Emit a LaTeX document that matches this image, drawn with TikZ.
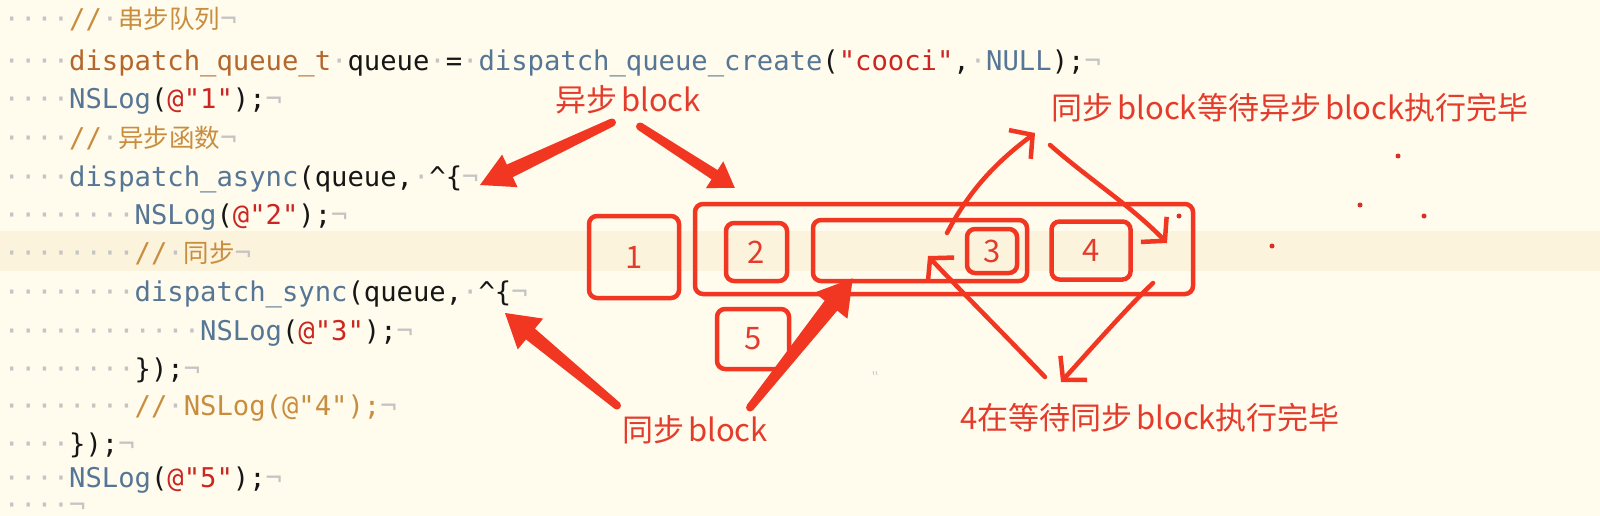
\documentclass[tikz,border=0pt]{standalone}
\usepackage{tikz}
\usepackage{xcolor}
\usepackage{fontspec}
\setmonofont{DejaVu Sans Mono}
\newfontfamily\cjk{Noto Sans CJK SC}
\usetikzlibrary{positioning,arrows.meta,calc}
\definecolor{bgcream}{RGB}{255,251,237}
\definecolor{hlband}{RGB}{252,243,220}
\definecolor{wsgray}{RGB}{196,196,196}
\definecolor{codeink}{RGB}{22,22,22}
\definecolor{cmgold}{RGB}{201,141,62}
\definecolor{tyrust}{RGB}{180,103,45}
\definecolor{fnslate}{RGB}{86,118,150}
\definecolor{strred}{RGB}{203,38,33}
\definecolor{markred}{RGB}{241,54,33}
\definecolor{notered}{RGB}{228,60,44}
\definecolor{dotred}{RGB}{214,48,40}

\newcommand\cws{\textcolor{wsgray}{·}}
\newcommand\ceol{\textcolor{wsgray}{¬}}
\newcommand\cfn[1]{\textcolor{fnslate}{#1}}
\newcommand\cstr[1]{\textcolor{strred}{#1}}
\newcommand\ccm[1]{\textcolor{cmgold}{#1}}
\newcommand\cty[1]{\textcolor{tyrust}{#1}}
\newcommand\ccjk{\cjk\fontsize{25.5}{30}\selectfont}
\newcommand\cind{\cws\cws\cws\cws}
\newcommand\notefont{\cjk\fontsize{31}{36}\selectfont\spaceskip=4pt\relax}
% tail, tip, half tail width, half shaft width, head length, half head width
\newcommand\fatarrow[6]{%
  \coordinate (fab) at ($(#2)!#5!(#1)$);
  \fill[markred] ($(#1)!#3!90:(#2)$) -- ($(fab)!#4!-90:(#1)$) -- ($(fab)!#6!-90:(#1)$) -- (#2)
    -- ($(fab)!#6!90:(#1)$) -- ($(fab)!#4!90:(#1)$) -- ($(#1)!#3!-90:(#2)$) -- cycle;
  \fill[markred] (#1) circle[radius=#3];}

\begin{document}
\begin{tikzpicture}[x=1pt,y=-1pt,
    code/.style={anchor=base west, inner sep=0, font=\ttfamily\fontsize{27.2}{30}\selectfont, text=codeink},
    note/.style={inner sep=0, font=\notefont, text=notered},
    qbox/.style={draw=markred, line width=4.5pt, rounded corners=8pt, inner sep=0, font=\cjk\fontsize{31}{36}\selectfont, text=notered},
    handarrow/.style={draw=markred, line width=4.5pt, line cap=round, -{Straight Barb[length=16pt,width=36pt]}}]

\fill[bgcream] (0,0) rectangle (1600,516);
\useasboundingbox (0,0) rectangle (1600,516);
\fill[hlband] (0,231) rectangle (1600,271);

\node[code] (l0) at (3.5,29) {\cind\ccm{//}\cws\ccm{{\ccjk 串步队列}}\ceol};
\node[code] (l1) at (3.5,71) {\cind\cty{dispatch\_queue\_t}\cws queue\cws=\cws\cfn{dispatch\_queue\_create}(\cstr{"cooci"},\cws\cfn{NULL});\ceol};
\node[code] (l2) at (3.5,109) {\cind\cfn{NSLog}(\cstr{@"1"});\ceol};
\node[code] (l3) at (3.5,147) {\cind\ccm{//}\cws\ccm{{\ccjk 异步函数}}\ceol};
\node[code] (l4) at (3.5,186) {\cind\cfn{dispatch\_async}(queue,\cws\textasciicircum\{\ceol};
\node[code] (l5) at (3.5,224) {\cind\cind\cfn{NSLog}(\cstr{@"2"});\ceol};
\node[code] (l6) at (3.5,262) {\cind\cind\ccm{//}\cws\ccm{{\ccjk 同步}}\ceol};
\node[code] (l7) at (3.5,301) {\cind\cind\cfn{dispatch\_sync}(queue,\cws\textasciicircum\{\ceol};
\node[code] (l8) at (3.5,340) {\cind\cind\cind\cfn{NSLog}(\cstr{@"3"});\ceol};
\node[code] (l9) at (3.5,378) {\cind\cind\});\ceol};
\node[code] (l10) at (3.5,415) {\cind\cind\ccm{//}\cws\ccm{NSLog(@"4");}\ceol};
\node[code] (l11) at (3.5,453) {\cind\});\ceol};
\node[code] (l12) at (3.5,487) {\cind\cfn{NSLog}(\cstr{@"5"});\ceol};
\node[code] (l13) at (3.5,514) {\cind\ceol};

\node[qbox, minimum width=90pt, minimum height=82pt] (n1) at (634,257) {1};
\node[qbox, minimum width=498pt, minimum height=90pt] (queue) at (944,249) {};
\node[qbox, minimum width=61pt, minimum height=58pt] (n2) at (756.5,252) {2};
\node[qbox, minimum width=214pt, minimum height=61pt] (syncq) at (920,250.5) {};
\node[qbox, minimum width=50pt, minimum height=44pt] (n3) at (992,251) {3};
\node[qbox, minimum width=79pt, minimum height=58pt, right=20pt of syncq] (n4) {4};
\node[qbox, minimum width=72pt, minimum height=60pt] (n5) at (753,339) {5};

\node[note] (asyncl) at (628,100) {异步 block};
\node[note] (waitl) at (1290,108) {同步 block等待异步 block执行完毕};
\node[note] (syncl) at (695,430) {同步 block};
\node[note] (fourl) at (1150,418) {4在等待同步 block执行完毕};

\coordinate (asyncend) at (480,185);
\coordinate (syncend) at (505,313);
\coordinate (asynctail) at ([xshift=-16pt,yshift=-8pt]asyncl.south);
\coordinate (queuetail) at ([xshift=12pt,yshift=-12pt]asyncl.south);
\coordinate (queuetip) at ([xshift=42pt,yshift=14pt]queue.north west);
\coordinate (synctail) at ([xshift=-5pt,yshift=10pt]syncl.north west);
\coordinate (syncqtail) at ([xshift=-18pt,yshift=8pt]syncl.north east);
\coordinate (syncqtip) at ([xshift=42pt,yshift=5pt]syncq.south west);
\fatarrow{asynctail}{asyncend}{4pt}{7pt}{33pt}{18pt}
\fatarrow{queuetail}{queuetip}{4pt}{5.5pt}{24pt}{16pt}
\fatarrow{synctail}{syncend}{4pt}{7pt}{33pt}{20pt}
\fatarrow{syncqtail}{syncqtip}{4pt}{8pt}{35pt}{21pt}

\coordinate (upfrom) at (947,233);
\coordinate (upto) at (1035,133);
\coordinate (downfrom) at (1050,145);
\coordinate (downto) at (1167,243);
\coordinate (lowfrom) at (1153,283);
\coordinate (lowto) at (1061,382);
\coordinate (backfrom) at (1045,377);
\coordinate (backto) at (928,256);
\draw[handarrow] (upfrom) .. controls (972,185) and (1002,158) .. (upto);
\draw[handarrow] (downfrom) .. controls (1090,180) and (1130,205) .. (downto);
\draw[handarrow] (lowfrom) .. controls (1125,310) and (1090,350) .. (lowto);
\draw[handarrow] (backfrom) .. controls (1000,330) and (958,288) .. (backto);

\fill[dotred] (1179,216) circle[radius=2.5pt];
\fill[dotred] (1398,156) circle[radius=2.5pt];
\fill[dotred] (1360,205) circle[radius=2.5pt];
\fill[dotred] (1424,216) circle[radius=2.5pt];
\fill[dotred] (1272,246) circle[radius=2.5pt];
\draw[wsgray, line width=0.8pt] (873,371) -- (874,375) (876,371) -- (877,375);
\end{tikzpicture}
\end{document}
